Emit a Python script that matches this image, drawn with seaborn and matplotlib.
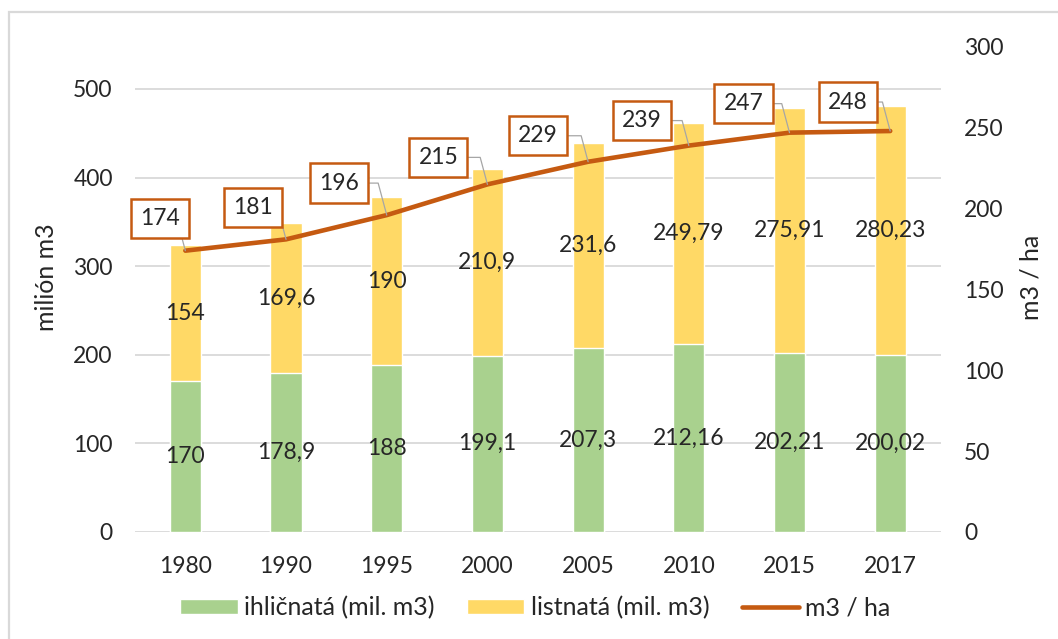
import numpy as np
import pandas as pd
import seaborn as sns
import matplotlib.pyplot as plt
from matplotlib.patches import Patch, Rectangle
from matplotlib.lines import Line2D

# data
years = ['1980', '1990', '1995', '2000', '2005', '2010', '2015', '2017']
ihlicnata = [170, 178.9, 188, 199.1, 207.3, 212.16, 202.21, 200.02]
listnata = [154, 169.6, 190, 210.9, 231.6, 249.79, 275.91, 280.23]
m3_ha = [174, 181, 196, 215, 229, 239, 247, 248]

# label offsets for the line labels (pixels)
label_offsets = [(-25, 32), (-33, 32), (-48, 32), (-49, 27), (-50, 26), (-47, 25), (-46, 29), (-42, 29)]

GREEN = '#A9D18E'
YELLOW = '#FFD966'
ORANGE = '#C55A11'
GRID = '#D9D9D9'
TXT = '#262626'

sns.set_theme(style='white')
plt.rcParams['font.family'] = ['Lato', 'DejaVu Sans']
FS = 16.5

df = pd.DataFrame({'rok': years, 'ihl': ihlicnata, 'list': listnata})
df['spolu'] = df['ihl'] + df['list']

fig = plt.figure(figsize=(10.58, 6.39), dpi=100)
ax = fig.add_axes([0.1276, 0.1675, 0.7614, 0.759])

#%% stacked bars: total in yellow, green drawn over it
sns.barplot(data=df, x='rok', y='spolu', color=YELLOW, width=0.31, saturation=1, ax=ax)
sns.barplot(data=df, x='rok', y='ihl', color=GREEN, width=0.31, saturation=1, ax=ax)

for i in range(len(years)):
    g = df['ihl'][i]
    l = df['list'][i]
    ax.text(i, g / 2, f'{g:g}'.replace('.', ','), ha='center', va='center', fontsize=FS, color=TXT)
    ax.text(i, g + l / 2, f'{l:g}'.replace('.', ','), ha='center', va='center', fontsize=FS, color=TXT)

ax.set_xlim(-0.5, 7.5)
ax.set_ylim(0, 547.4)
ax.set_yticks([0, 100, 200, 300, 400, 500])
ax.grid(axis='y', color=GRID, lw=1.3)
ax.set_axisbelow(True)
ax.tick_params(axis='y', length=0, pad=16, labelsize=FS, labelcolor=TXT)
ax.tick_params(axis='x', length=0, pad=17, labelsize=FS, labelcolor=TXT)
ax.set_xlabel('')
ax.set_ylabel('')
sns.despine(ax=ax, left=True, bottom=True)

#%% line on secondary axis
ax2 = ax.twinx()
sns.lineplot(x=np.arange(len(years)), y=m3_ha, color=ORANGE, lw=3.3, ax=ax2, solid_capstyle='round')
ax2.set_ylim(0, 300)
ax2.set_yticks([0, 50, 100, 150, 200, 250, 300])
ax2.tick_params(axis='y', length=0, pad=17, labelsize=FS, labelcolor=TXT)
ax2.set_ylabel('')
for s in ax2.spines.values():
    s.set_visible(False)

for i, v in enumerate(m3_ha):
    ax2.annotate(str(v), xy=(i, v), xytext=label_offsets[i], textcoords='offset pixels',
                 ha='center', va='center', fontsize=FS, color=TXT,
                 bbox=dict(boxstyle='square,pad=0.4', fc='white', ec=ORANGE, lw=1.8),
                 arrowprops=dict(arrowstyle='-', color='#A6A6A6', lw=0.9, shrinkA=0, shrinkB=0,
                                 connectionstyle='angle,angleA=0,angleB=105,rad=0'))

# axis titles
fig.text(47 / 1058, 1 - 277 / 639, 'milión m3', rotation=90, ha='center', va='center', fontsize=18, color=TXT)
fig.text(1031 / 1058, 1 - 277 / 639, 'm3 / ha', rotation=90, ha='center', va='center', fontsize=18, color=TXT)

#%% legend
handles = [Patch(facecolor=GREEN, label='ihličnatá (mil. m3)'),
           Patch(facecolor=YELLOW, label='listnatá (mil. m3)'),
           Line2D([0], [0], color=ORANGE, lw=3.3, label='m3 / ha')]
fig.legend(handles=handles, loc='center', bbox_to_anchor=(0.506, 0.0485), ncol=3, frameon=False,
           fontsize=18, handlelength=2.3, handleheight=0.55, handletextpad=0.25, columnspacing=1.3,
           labelcolor=TXT)

# chart border
fig.patches.append(Rectangle((9 / 1058, -0.1), 1.2, 1 - 12 / 639 + 0.1, transform=fig.transFigure,
                             fill=False, ec='#D9D9D9', lw=1.6))

fig.savefig('out.png', dpi=100)
